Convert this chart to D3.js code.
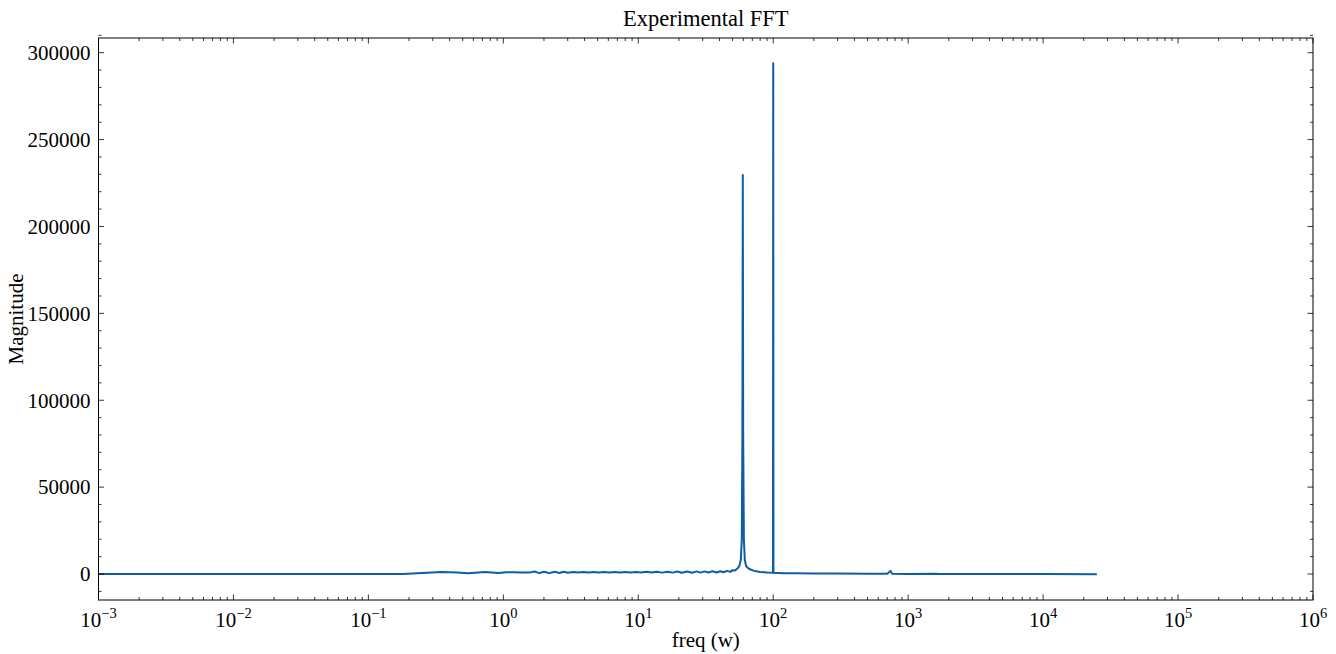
<!DOCTYPE html>
<html>
<head>
<meta charset="utf-8">
<script src="https://cdn.jsdelivr.net/npm/d3@7"></script>
<style>
  body { margin: 0; background: #fff; }
  svg { display: block; }
  text { font-family: "Liberation Serif", "DejaVu Serif", serif; fill: #000; }
</style>
</head>
<body>
<svg id="chart"></svg>
<script>
// frequency (w) and FFT magnitude
const freq = [
  0.001, 0.01, 0.1, 0.18, 0.25, 0.35, 0.45, 0.55, 0.65, 0.73, 0.82, 0.92,
  1.05, 1.2, 1.35, 1.55, 1.7, 1.85, 2.0, 2.2, 2.4, 2.6, 2.8, 3.0, 3.3, 3.6,
  3.9, 4.3, 4.7, 5.1, 5.6, 6.1, 6.7, 7.3, 8.0, 8.8, 9.6, 10.5, 11.5, 12.5,
  13.7, 15, 16.5, 18, 19.5, 21, 23, 25, 27, 29, 31, 33, 35.5, 38, 40.5, 43,
  45.5, 48, 50, 52, 54, 56, 57.5, 58.5, 59.1, 59.5, 59.9, 60.6, 61.6, 63, 66,
  72, 80, 90, 99.6, 100, 100.4, 120, 150, 200, 300, 500, 700, 740, 760, 1000,
  1600, 1700, 3000, 10000, 25000
];
const magnitude = [
  0, 0, 0, 50, 600, 1100, 800, 450, 900, 1150, 900, 600,
  950, 1000, 900, 800, 1400, 500, 1300, 500, 1300, 600, 1250, 700, 1200, 800,
  1150, 850, 1150, 850, 1150, 900, 1150, 900, 1150, 850, 1200, 900, 1250, 850,
  1300, 800, 1350, 800, 1400, 750, 1450, 750, 1500, 800, 1500, 850, 1550, 900, 1600, 1000,
  1800, 1200, 2200, 2000, 3000, 4500, 8000, 20000, 80000, 229600, 80000, 20000, 8000, 4500, 3000,
  1800, 1200, 900, 750, 294000, 700, 500, 450, 350, 250, 150, 100, 1800, 100, 50,
  150, -50, 0, -50, -100
];
const xDecades = [-3, -2, -1, 0, 1, 2, 3, 4, 5, 6];
const yTicks = [0, 50000, 100000, 150000, 200000, 250000, 300000];

const W = 1336, H = 654;
const m = { left: 98.5, right: 1313, top: 38, bottom: 600 };

const svg = d3.select('#chart').attr('width', W).attr('height', H);

const x = d3.scaleLog().domain([1e-3, 1e6]).range([m.left, m.right]);
const y = d3.scaleLinear().domain([-14960, 308460]).range([m.bottom, m.top]);

// clip the line to the axes box
svg.append('clipPath').attr('id', 'clip')
  .append('rect')
    .attr('x', m.left).attr('y', m.top)
    .attr('width', m.right - m.left).attr('height', m.bottom - m.top);

const pts = freq.map((f, i) => [f, magnitude[i]]);
const line = d3.line().x(d => x(d[0])).y(d => y(d[1]));

svg.append('path')
  .datum(pts)
  .attr('clip-path', 'url(#clip)')
  .attr('d', line)
  .attr('fill', 'none')
  .attr('stroke', '#0C5DA5')
  .attr('stroke-width', 2)
  .attr('stroke-linejoin', 'round');

// ticks, pointing inwards on all four sides
const minorX = [];
xDecades.slice(0, -1).forEach(e => {
  for (let k = 2; k <= 9; k++) minorX.push(k * Math.pow(10, e));
});
const majorX = xDecades.map(e => Math.pow(10, e));
const minorY = d3.range(-10000, 310001, 10000).filter(v => v % 50000 !== 0);

const ticks = svg.append('g').attr('stroke', '#000').attr('stroke-width', 0.8);
function xTick(v, len) {
  const px = x(v);
  ticks.append('line').attr('x1', px).attr('x2', px).attr('y1', m.bottom).attr('y2', m.bottom - len);
  ticks.append('line').attr('x1', px).attr('x2', px).attr('y1', m.top).attr('y2', m.top + len);
}
function yTick(v, len) {
  const py = y(v);
  ticks.append('line').attr('y1', py).attr('y2', py).attr('x1', m.left).attr('x2', m.left + len);
  ticks.append('line').attr('y1', py).attr('y2', py).attr('x1', m.right).attr('x2', m.right - len);
}
majorX.forEach(v => xTick(v, 5.5));
minorX.forEach(v => xTick(v, 3));
yTicks.forEach(v => yTick(v, 5.5));
minorY.forEach(v => yTick(v, 3));

// frame
svg.append('rect')
  .attr('x', m.left).attr('y', m.top)
  .attr('width', m.right - m.left).attr('height', m.bottom - m.top)
  .attr('fill', 'none').attr('stroke', '#000').attr('stroke-width', 1);

// x tick labels: 10 with superscript exponent
xDecades.forEach(e => {
  const t = svg.append('text')
    .attr('x', x(Math.pow(10, e)))
    .attr('y', 627)
    .attr('text-anchor', 'middle')
    .attr('font-size', 21);
  t.append('tspan').text('10');
  t.append('tspan')
    .attr('dy', -9)
    .attr('font-size', 14.5)
    .text(e < 0 ? '\u2212' + Math.abs(e) : String(e));
});

// y tick labels
yTicks.forEach(v => {
  svg.append('text')
    .attr('x', m.left - 8)
    .attr('y', y(v))
    .attr('dy', '0.35em')
    .attr('text-anchor', 'end')
    .attr('font-size', 21)
    .text(v);
});

svg.append('text')
  .attr('x', (m.left + m.right) / 2).attr('y', 26)
  .attr('text-anchor', 'middle').attr('font-size', 22.5)
  .text('Experimental FFT');

svg.append('text')
  .attr('x', (m.left + m.right) / 2).attr('y', 647)
  .attr('text-anchor', 'middle').attr('font-size', 21)
  .text('freq (w)');

svg.append('text')
  .attr('transform', `translate(23,${(m.top + m.bottom) / 2}) rotate(-90)`)
  .attr('text-anchor', 'middle').attr('font-size', 21)
  .text('Magnitude');
</script>
</body>
</html>
